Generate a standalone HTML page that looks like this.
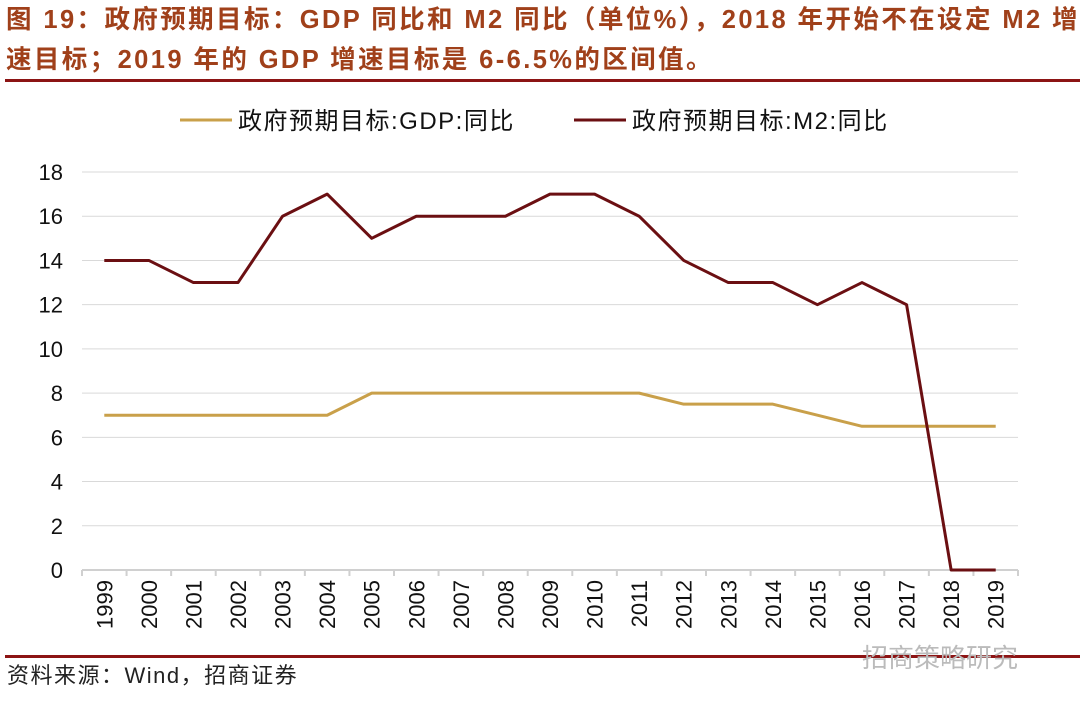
<!DOCTYPE html>
<html><head><meta charset="utf-8">
<style>
body{margin:0;width:1080px;height:702px;background:#fff;overflow:hidden;position:relative;font-family:"Liberation Sans","Noto Sans CJK SC",sans-serif}
.title{position:absolute;left:6px;top:0px;width:1074px;color:#a0401a;font-weight:bold;font-size:25.5px;line-height:40px;letter-spacing:2.4px;white-space:nowrap;overflow:hidden}
.rule{position:absolute;left:5px;width:1075px;height:3px;background:#8c1414}
.src{position:absolute;left:7px;top:658px;font-size:22px;color:#222;letter-spacing:1.5px}
.wm{position:absolute;left:862px;top:638px;font-size:26px;color:#bbb}
</style></head><body>
<div class="title">图 19：政府预期目标：GDP 同比和 M2 同比（单位%），2018 年开始不在设定 M2 增<br>速目标；2019 年的 GDP 增速目标是 6-6.5%的区间值。</div>
<div class="rule" style="top:79px"></div>
<div class="rule" style="top:655px"></div>
<div class="src">资料来源：Wind，招商证券</div>
<div class="wm">招商策略研究</div>
<svg id="chart" width="1080" height="702" style="position:absolute;left:0;top:0"></svg>
<script>
const years=["1999","2000","2001","2002","2003","2004","2005","2006","2007","2008","2009","2010","2011","2012","2013","2014","2015","2016","2017","2018","2019"];
const gdp=[7,7,7,7,7,7,8,8,8,8,8,8,8,7.5,7.5,7.5,7,6.5,6.5,6.5,6.5];
const m2=[14,14,13,13,16,17,15,16,16,16,17,17,16,14,13,13,12,13,12,0,0];
const yTicks=[0,2,4,6,8,10,12,14,16,18];
const svg=document.getElementById('chart');
const NS='http://www.w3.org/2000/svg';
const x0=82,x1=1018,yBase=570,yTop=172,yMax=18;
const step=(x1-x0)/years.length;
const xs=i=>x0+step*(i+0.5);
const ys=v=>yBase-(v/yMax)*(yBase-yTop);
function mk(t,a){const e=document.createElementNS(NS,t);for(const k in a)e.setAttribute(k,a[k]);svg.appendChild(e);return e;}
yTicks.forEach(v=>{
  if(v>0){const g=mk('line',{x1:x0,x2:x1,y1:ys(v),y2:ys(v),stroke:'#d9d9d9','stroke-width':1});
  
  }
  const t=mk('text',{x:63,y:ys(v)+8,'text-anchor':'end','font-size':22,fill:'#111','font-family':'Liberation Sans, sans-serif'});
  t.textContent=v;
  
  
});
const ax=mk('line',{x1:x0,x2:x1,y1:yBase,y2:yBase,stroke:'#d0d0d0','stroke-width':2});


for(let i=0;i<=years.length;i++){
  const tk=mk('line',{x1:x0+step*i,x2:x0+step*i,y1:yBase,y2:yBase+6,stroke:'#d0d0d0','stroke-width':2});
  
  
}
years.forEach((y,i)=>{
  const t=mk('text',{x:0,y:0,'text-anchor':'end','font-size':22,fill:'#111','font-family':'Liberation Sans, sans-serif',transform:`translate(${xs(i)+8},580) rotate(-90)`});
  t.textContent=y;
  
  
});
function series(vals,color,name){
  const p=mk('polyline',{points:vals.map((v,i)=>xs(i)+','+ys(v)).join(' '),fill:'none',stroke:color,'stroke-width':3,'stroke-linejoin':'round'});
  
  
}
series(gdp,'#c9a04a','gdp-target-line');
series(m2,'#6b0f12','m2-target-line');
function legend(x,color,label,name){
  const l=mk('line',{x1:x,x2:x+52,y1:120,y2:120,stroke:color,'stroke-width':3});
  
  
  const t=mk('text',{x:x+58,y:129,'font-size':24,'letter-spacing':'1.5',fill:'#111','font-family':'Liberation Sans, Noto Sans CJK SC, sans-serif'});
  t.textContent=label;
  
  
}
legend(180,'#c9a04a','政府预期目标:GDP:同比','legend-gdp');
legend(574,'#6b0f12','政府预期目标:M2:同比','legend-m2');
</script>
</body></html>
